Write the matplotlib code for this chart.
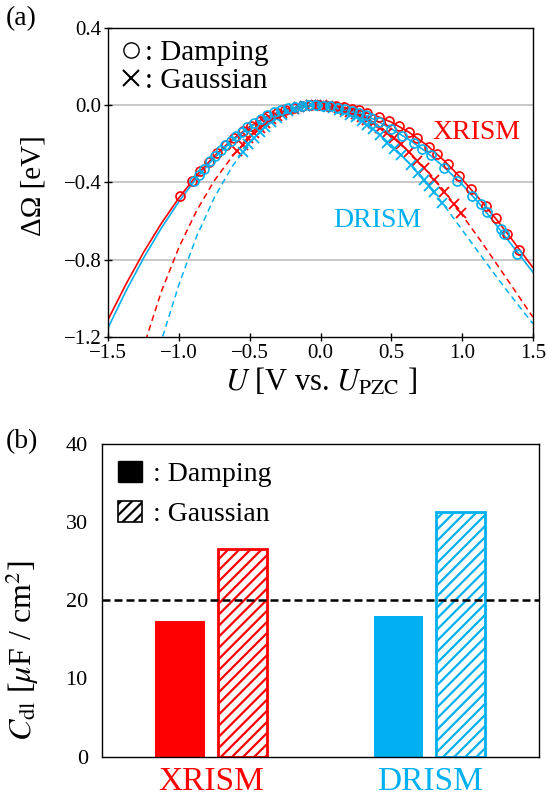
import numpy as np
import matplotlib
matplotlib.use('Agg')
import matplotlib.pyplot as plt
from matplotlib.lines import Line2D
from matplotlib.patches import Patch
from matplotlib.ticker import FuncFormatter, MultipleLocator

plt.rcParams['font.family'] = ['Liberation Serif', 'DejaVu Serif']
plt.rcParams['mathtext.fontset'] = 'stix'
plt.rcParams['hatch.linewidth'] = 1.6

red = '#FF0000'
blue = '#00B0F0'

# ---- (a) grand potential vs electrode potential ----
# fitted curves, read off at 0.125 V steps
U_fit = [-1.5, -1.375, -1.25, -1.125, -1.0, -0.875, -0.75, -0.625, -0.5, -0.375, -0.25, -0.125, 0.0,
         0.125, 0.25, 0.375, 0.5, 0.625, 0.75, 0.875, 1.0, 1.125, 1.25, 1.375, 1.5]
xr_damp_fit = [-1.108, -0.927, -0.761, -0.612, -0.479, -0.363, -0.262, -0.178, -0.110, -0.058, -0.023, -0.004, -0.001,
               -0.006, -0.022, -0.050, -0.087, -0.140, -0.206, -0.288, -0.383, -0.487, -0.598, -0.717, -0.840]
dr_damp_fit = [-1.151, -0.962, -0.791, -0.636, -0.498, -0.376, -0.272, -0.185, -0.114, -0.061, -0.024, -0.004, -0.001,
               -0.012, -0.034, -0.072, -0.122, -0.178, -0.243, -0.322, -0.410, -0.512, -0.628, -0.746, -0.864]
xr_gauss_fit = [-1.99, -1.59, -1.25, -0.965, -0.735, -0.545, -0.39, -0.266, -0.165, -0.088, -0.035, -0.006, -0.001,
                -0.012, -0.045, -0.095, -0.160, -0.243, -0.335, -0.445, -0.568, -0.695, -0.828, -0.962, -1.097]
dr_gauss_fit = [-2.33, -1.92, -1.55, -1.22, -0.927, -0.678, -0.477, -0.318, -0.194, -0.102, -0.039, -0.006, -0.002,
                -0.018, -0.060, -0.125, -0.205, -0.300, -0.405, -0.520, -0.645, -0.770, -0.895, -1.015, -1.131]

# XRISM, damping (circles)
xr_damp_U = [-0.99, -0.907, -0.85, -0.79, -0.73, -0.67, -0.61, -0.55, -0.49, -0.43, -0.37, -0.31,
             -0.25, -0.19, -0.13, -0.07, -0.01, 0.05, 0.11, 0.165, 0.224, 0.269, 0.33, 0.413, 0.483,
             0.554, 0.625, 0.684, 0.766, 0.825, 0.90, 0.978, 1.061, 1.167, 1.237, 1.32, 1.402]
xr_damp_W = [-0.468, -0.391, -0.341, -0.293, -0.248, -0.206, -0.169, -0.135, -0.105, -0.079, -0.057, -0.038,
             -0.023, -0.012, -0.004, -0.001, 0.0, -0.002, -0.006, -0.011, -0.019, -0.027, -0.040, -0.060, -0.082,
             -0.108, -0.138, -0.170, -0.214, -0.252, -0.305, -0.365, -0.432, -0.520, -0.585, -0.665, -0.750]

# DRISM, damping (circles)
dr_damp_U = [-0.896, -0.86, -0.825, -0.778, -0.743, -0.707, -0.672, -0.636, -0.601, -0.554, -0.518, -0.471,
             -0.424, -0.377, -0.33, -0.28, -0.23, -0.18, -0.13, -0.08, -0.03, 0.02, 0.07, 0.12, 0.17, 0.22,
             0.27, 0.32, 0.36, 0.413, 0.495, 0.578, 0.66, 0.719, 0.778, 0.872, 0.967, 1.073, 1.131, 1.179,
             1.273, 1.296, 1.391]
dr_damp_W = [-0.390, -0.360, -0.330, -0.290, -0.262, -0.234, -0.208, -0.183, -0.161, -0.136, -0.114, -0.090,
             -0.070, -0.052, -0.037, -0.025, -0.015, -0.008, -0.003, 0.0, 0.0, -0.002, -0.006, -0.012, -0.019, -0.028,
             -0.039, -0.052, -0.066, -0.086, -0.121, -0.157, -0.198, -0.226, -0.259, -0.325, -0.392, -0.468, -0.513, -0.555,
             -0.642, -0.665, -0.770]

# XRISM, Gaussian (crosses)
xr_gauss_U = [-0.59, -0.55, -0.51, -0.47, -0.43, -0.39, -0.35, -0.31, -0.27, -0.23, -0.19, -0.15, -0.11,
              -0.07, -0.03, 0.01, 0.05, 0.09, 0.13, 0.17, 0.21, 0.25, 0.29, 0.33, 0.37, 0.42, 0.471, 0.52,
              0.566, 0.625, 0.684, 0.731, 0.801, 0.872, 0.943, 0.99]
xr_gauss_W = [-0.238, -0.205, -0.172, -0.143, -0.117, -0.093, -0.073, -0.055, -0.040, -0.027, -0.017, -0.009, -0.004,
              -0.001, 0.0, -0.001, -0.004, -0.009, -0.016, -0.024, -0.034, -0.046, -0.060, -0.075, -0.092, -0.116, -0.144, -0.172,
              -0.202, -0.243, -0.288, -0.327, -0.389, -0.452, -0.512, -0.556]

# DRISM, Gaussian (crosses)
dr_gauss_U = [-0.55, -0.51, -0.47, -0.43, -0.39, -0.35, -0.31, -0.27, -0.23, -0.19, -0.15, -0.11, -0.07,
              -0.03, 0.01, 0.05, 0.09, 0.13, 0.17, 0.21, 0.25, 0.29, 0.33, 0.37, 0.42, 0.471, 0.518, 0.566,
              0.636, 0.69, 0.731, 0.766, 0.801, 0.86]
dr_gauss_W = [-0.240, -0.203, -0.169, -0.139, -0.112, -0.087, -0.066, -0.048, -0.032, -0.020, -0.011, -0.004, -0.001,
              0.0, -0.003, -0.008, -0.014, -0.024, -0.036, -0.050, -0.062, -0.080, -0.102, -0.123, -0.155, -0.193, -0.225, -0.258,
              -0.310, -0.352, -0.388, -0.418, -0.450, -0.505]

# ---- (b) double layer capacitance ----
models = ['XRISM', 'DRISM']
cdl_damping = [17.3, 18.0]
cdl_gaussian = [26.6, 31.3]


def minus_fmt(v, pos):
    if abs(v) < 1e-9:
        v = 0.0
    return f'{v:.1f}'.replace('-', '\u2212')


fig = plt.figure(figsize=(5.47, 8.02), dpi=100)

ax1 = fig.add_axes([0.198, 0.580, 0.776, 0.385])
for y in [0.0, -0.4, -0.8]:
    ax1.axhline(y, color='#BFBFBF', lw=1.2, zorder=0)
ax1.plot(U_fit, xr_damp_fit, color=red, lw=1.2, zorder=2)
ax1.plot(U_fit, dr_damp_fit, color=blue, lw=1.2, zorder=2)
ax1.plot(U_fit, xr_gauss_fit, color=red, lw=1.1, ls=(0, (4, 2.7)), zorder=2)
ax1.plot(U_fit, dr_gauss_fit, color=blue, lw=1.1, ls=(0, (4, 2.7)), zorder=2)
ax1.plot(xr_gauss_U, xr_gauss_W, 'x', color=red, ms=6.5, mew=1.3, zorder=3)
ax1.plot(dr_gauss_U, dr_gauss_W, 'x', color=blue, ms=6.5, mew=1.3, zorder=3)
ax1.plot(xr_damp_U, xr_damp_W, 'o', mfc='none', mec=red, ms=6.5, mew=1.2, zorder=4)
ax1.plot(dr_damp_U, dr_damp_W, 'o', mfc='none', mec=blue, ms=6.5, mew=1.2, zorder=5)

ax1.set_xlim(-1.5, 1.5)
ax1.set_ylim(-1.2, 0.4)
ax1.xaxis.set_major_locator(MultipleLocator(0.5))
ax1.yaxis.set_major_locator(MultipleLocator(0.4))
ax1.xaxis.set_major_formatter(FuncFormatter(minus_fmt))
ax1.yaxis.set_major_formatter(FuncFormatter(minus_fmt))
ax1.tick_params(direction='inout', length=6, width=1, labelsize=15, pad=2)
for s in ax1.spines.values():
    s.set_linewidth(1.0)

ax1.text(1.10, -0.14, 'XRISM', color=red, fontsize=20, ha='center', va='center')
ax1.text(0.40, -0.595, 'DRISM', color=blue, fontsize=20, ha='center', va='center')

ax1.set_xlabel(r'$U$ [V vs. $U_{\rm PZC}$ ]', fontsize=22)
ax1.xaxis.set_label_coords(0.5, -0.095)
ax1.set_ylabel('ΔΩ [eV]', fontsize=21)
ax1.yaxis.set_label_coords(-0.145, 0.49)

h1 = [Line2D([], [], marker='o', ls='none', mfc='none', mec='black', ms=11, mew=1.0),
      Line2D([], [], marker='x', ls='none', color='black', ms=11, mew=1.5)]
ax1.legend(h1, [': Damping', ': Gaussian'], loc='upper left', frameon=False, fontsize=21,
           handlelength=0.75, handletextpad=0.1, labelspacing=0.05, borderaxespad=0.2, borderpad=0.2)

ax2 = fig.add_axes([0.186, 0.0565, 0.7995, 0.390])
x = np.array([1.0, 3.0])
ax2.bar(x - 0.285, cdl_damping, width=0.45, color=[red, blue], zorder=2)
ax2.bar(x + 0.285, cdl_gaussian, width=0.45, facecolor='white', edgecolor=[red, blue],
        hatch='///', linewidth=2.0, zorder=2)
ax2.axhline(20, color='black', lw=1.8, ls=(0, (3.2, 1.6)), zorder=3)
ax2.set_xlim(0, 4)
ax2.set_ylim(0, 40)
ax2.yaxis.set_major_locator(MultipleLocator(10))
ax2.set_xticks(x)
ax2.set_xticklabels(models, fontsize=24)
for lbl, c in zip(ax2.get_xticklabels(), [red, blue]):
    lbl.set_color(c)
ax2.tick_params(axis='x', length=0, pad=7)
ax2.tick_params(axis='y', length=0, labelsize=16, pad=10)
for s in ax2.spines.values():
    s.set_linewidth(1.0)
ax2.set_ylabel(r'$C_{\rm dl}$ [$\mu$F / cm$^2$]', fontsize=23)
ax2.yaxis.set_label_coords(-0.14, 0.34)

h2 = [Patch(facecolor='black', edgecolor='black'),
      Patch(facecolor='white', edgecolor='black', hatch='///', linewidth=1.2)]
ax2.legend(h2, [': Damping', ': Gaussian'], loc='upper left', frameon=False, fontsize=20,
           handlelength=0.85, handleheight=0.8, handletextpad=0.4, labelspacing=0.5,
           borderaxespad=0.3, borderpad=0.3)

fig.text(0.01, 0.992, '(a)', fontsize=20, va='top')
fig.text(0.01, 0.465, '(b)', fontsize=20, va='top')

fig.savefig('out.png', dpi=100)
